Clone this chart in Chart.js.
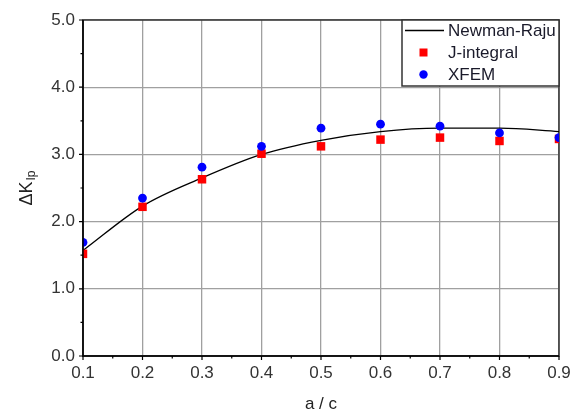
<!DOCTYPE html>
<html><head><meta charset="utf-8">
<script src="https://cdn.jsdelivr.net/npm/chart.js@4/dist/chart.umd.min.js"></script>
<style>html,body{margin:0;padding:0;background:#fff}#wrap{width:579px;height:414px}</style>
</head><body><div id="wrap"><canvas id="c" width="579" height="414"></canvas></div>
<script>
const ratios = [0.1, 0.2, 0.3, 0.4, 0.5, 0.6, 0.7, 0.8, 0.9];
const newmanRaju = [1.57, 2.23, 2.65, 3.00, 3.21, 3.34, 3.39, 3.39, 3.34];
const jIntegral = [1.52, 2.22, 2.63, 3.01, 3.12, 3.22, 3.25, 3.20, 3.23];
const xfem = [1.69, 2.35, 2.81, 3.12, 3.39, 3.45, 3.42, 3.32, 3.25];
const seriesNames = ['Newman-Raju', 'J-integral', 'XFEM'];
const xTitle = 'a / c';
const yTitleMain = '\u0394K';
const yTitleSub = 'Ip';

const FONT = '"Liberation Sans", Arial, sans-serif';
const pts = arr => ratios.map((r, i) => ({x: r, y: arr[i]}));

const isMajorX = v => Math.round(v * 100) % 10 === 0;
const isMajorY = v => Math.abs(v - Math.round(v)) < 1e-6;

const decor = {
  id: 'decor',
  beforeDatasetsDraw(chart) {
    const {ctx, chartArea: a} = chart;
    ctx.save();
    ctx.strokeStyle = '#333';
    ctx.lineWidth = 1.5;
    ctx.strokeRect(a.left, a.top, a.right - a.left, a.bottom - a.top);
    ctx.restore();
  },
  afterDraw(chart) {
    const {ctx, chartArea: a, scales} = chart;
    const xs = scales.x, ys = scales.y;
    ctx.save();
    // axes lines
    ctx.strokeStyle = '#000';
    ctx.lineWidth = 1.5;
    ctx.beginPath();
    ctx.moveTo(a.left, a.top); ctx.lineTo(a.left, a.bottom); ctx.lineTo(a.right, a.bottom);
    ctx.stroke();
    // ticks
    ctx.lineWidth = 1.2;
    ctx.beginPath();
    xs.ticks.forEach(t => {
      const px = xs.getPixelForValue(t.value);
      const len = isMajorX(t.value) ? 4 : 2.5;
      ctx.moveTo(px, a.bottom); ctx.lineTo(px, a.bottom + len);
    });
    ys.ticks.forEach(t => {
      const py = ys.getPixelForValue(t.value);
      const len = isMajorY(t.value) ? 4 : 2.5;
      ctx.moveTo(a.left, py); ctx.lineTo(a.left - len, py);
    });
    ctx.stroke();

    // x title
    ctx.fillStyle = '#222';
    ctx.font = '17px ' + FONT;
    ctx.textAlign = 'center';
    ctx.textBaseline = 'middle';
    ctx.fillText(xTitle, (a.left + a.right) / 2, 404);

    // y title with subscript
    ctx.save();
    const cy = (a.top + a.bottom) / 2;
    ctx.translate(32, cy);
    ctx.rotate(-Math.PI / 2);
    ctx.font = '18px ' + FONT;
    const wMain = ctx.measureText(yTitleMain).width;
    ctx.font = '12px ' + FONT;
    const wSub = ctx.measureText(yTitleSub).width;
    const total = wMain + wSub + 1;
    ctx.textAlign = 'left';
    ctx.textBaseline = 'alphabetic';
    ctx.font = '18px ' + FONT;
    ctx.fillText(yTitleMain, -total / 2, 0);
    ctx.font = '12px ' + FONT;
    ctx.fillText(yTitleSub, -total / 2 + wMain + 1, 3);
    ctx.restore();

    // legend
    const lx = 402, ly = a.top, lw = a.right - 402, lh = 66;
    ctx.fillStyle = '#fff';
    ctx.fillRect(lx, ly, lw, lh);
    ctx.strokeStyle = '#333';
    ctx.lineWidth = 1.5;
    ctx.strokeRect(lx, ly, lw, lh);
    const rows = [ly + 10.5, ly + 32.5, ly + 54.5];
    ctx.save();
    ctx.beginPath(); ctx.rect(lx, ly, lw, lh); ctx.clip();
    ctx.strokeStyle = '#000'; ctx.lineWidth = 1.3;
    ctx.beginPath(); ctx.moveTo(405, rows[0]); ctx.lineTo(444, rows[0]); ctx.stroke();
    ctx.fillStyle = '#ff0000';
    ctx.fillRect(423.5 - 4, rows[1] - 4, 8, 8);
    ctx.fillStyle = '#0000ff';
    ctx.beginPath(); ctx.arc(423.5, rows[2], 4.2, 0, Math.PI * 2); ctx.fill();
    ctx.fillStyle = '#1a1a2a';
    ctx.font = '17px ' + FONT;
    ctx.textAlign = 'left';
    ctx.textBaseline = 'middle';
    seriesNames.forEach((n, i) => ctx.fillText(n, 448, rows[i] + 0.5));
    ctx.restore();
    ctx.restore();
  }
};

new Chart(document.getElementById('c'), {
  type: 'scatter',
  data: {
    datasets: [
      {label: seriesNames[0], type: 'line', data: pts(newmanRaju), borderColor: '#000', borderWidth: 1.3,
       pointRadius: 0, cubicInterpolationMode: 'monotone', fill: false, order: 3, clip: 0},
      {label: seriesNames[1], data: pts(jIntegral), pointStyle: 'rect', pointRadius: 6,
       backgroundColor: '#ff0000', borderWidth: 0, order: 2, clip: 0},
      {label: seriesNames[2], data: pts(xfem), pointStyle: 'circle', pointRadius: 4.4,
       backgroundColor: '#0000ff', borderWidth: 0, order: 1, clip: 0}
    ]
  },
  options: {
    responsive: false,
    animation: false,
    devicePixelRatio: 1,
    layout: {padding: {left: 0, right: 20, top: 20, bottom: 0}},
    plugins: {legend: {display: false}, tooltip: {enabled: false}},
    scales: {
      x: {
        type: 'linear', min: 0.1, max: 0.9,
        afterFit(s) { s.height = 58; },
        border: {display: false},
        grid: {
          color: c => (c.tick && isMajorX(c.tick.value) ? '#a0a0a0' : 'transparent'),
          lineWidth: 1.3, tickLength: 4, tickColor: 'transparent', drawTicks: true
        },
        ticks: {
          stepSize: 0.05, autoSkip: false, maxRotation: 0, padding: 3,
          color: '#333', font: {family: FONT, size: 17},
          callback: v => (isMajorX(v) ? (Math.round(v * 10) / 10).toFixed(1) : '')
        }
      },
      y: {
        type: 'linear', min: 0, max: 5,
        afterFit(s) { s.width = 83; },
        border: {display: false},
        grid: {
          color: c => (c.tick && isMajorY(c.tick.value) ? '#a0a0a0' : 'transparent'),
          lineWidth: 1.3, tickLength: 4, tickColor: 'transparent', drawTicks: true
        },
        ticks: {
          stepSize: 0.5, autoSkip: false, padding: 4,
          color: '#333', font: {family: FONT, size: 17},
          callback: v => (isMajorY(v) ? Number(v).toFixed(1) : '')
        }
      }
    }
  },
  plugins: [decor]
});
</script>
</body></html>
